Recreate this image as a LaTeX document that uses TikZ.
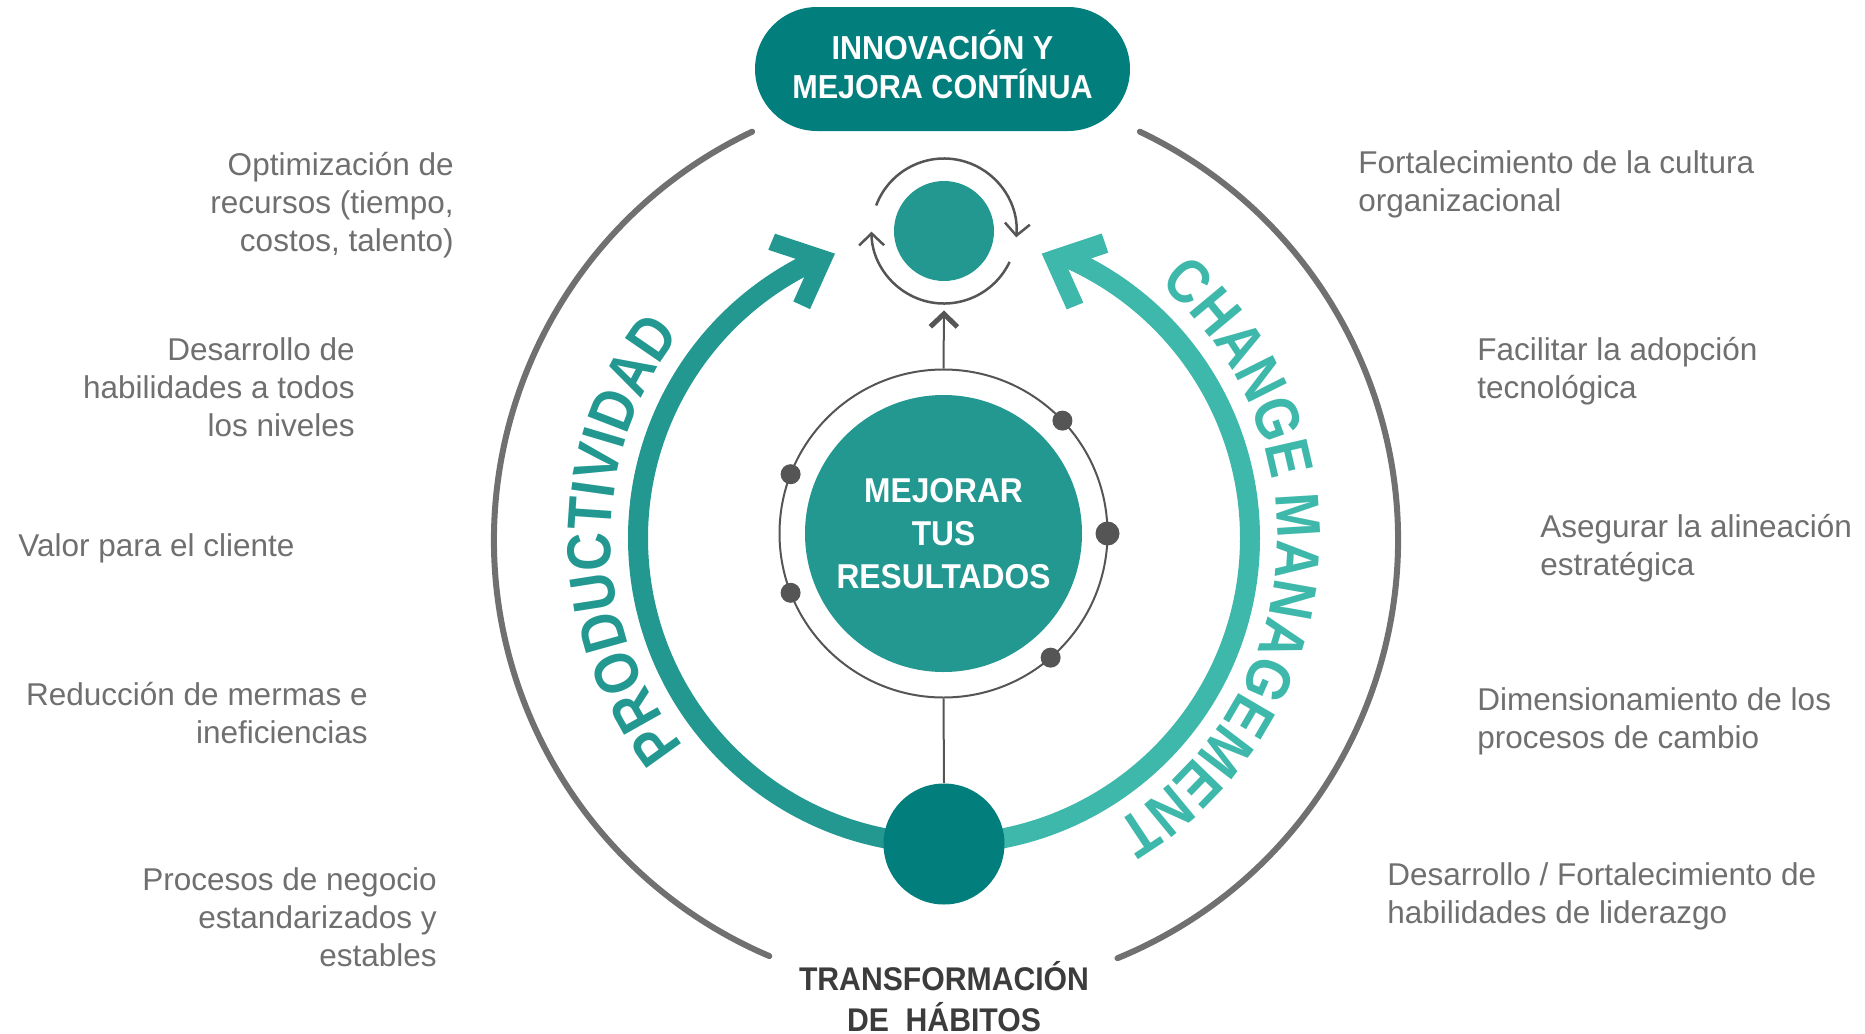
\documentclass[tikz,border=0pt]{standalone}
\usepackage{fontspec}
\setmainfont{Liberation Sans}
\newfontfamily\boldfont[FakeStretch=0.92]{Liberation Sans}
\newfontfamily\curvefont[FakeStretch=0.86]{Liberation Sans}
\usetikzlibrary{arrows.meta,decorations.text}
\definecolor{tealdark}{RGB}{2,127,125}
\definecolor{tealmid}{RGB}{34,152,145}
\definecolor{teallight}{RGB}{62,184,170}
\definecolor{txtgray}{RGB}{112,111,111}
\definecolor{arcgray}{RGB}{112,112,112}
\definecolor{linegray}{RGB}{85,85,85}
\definecolor{titlegray}{RGB}{60,60,60}
\newcommand\rlines[1]{\vtop{\lineskiplimit=-100pt\halign{\hfil##\cr#1\crcr}}}
\newcommand\llines[1]{\vtop{\lineskiplimit=-100pt\halign{##\hfil\cr#1\crcr}}}
\newcommand\clines[1]{\vtop{\lineskiplimit=-100pt\halign{\hfil##\hfil\cr#1\crcr}}}
\begin{document}
\begin{tikzpicture}[x=0.5pt,y=0.5pt,
  graylabel/.style={text=txtgray, inner sep=0pt, font=\fontsize{15.75pt}{19pt}\selectfont},
  outerarc/.style={arcgray, line width=3pt, line cap=round},
  bigarc/.style={line width=10pt},
  dotnode/.style={circle, fill=linegray, inner sep=0pt, minimum size=10pt},
  cyclearc/.style={linegray, line width=1.25pt, -{Straight Barb[length=6pt,width=12.5pt]}},
  boldtxt/.style={font=\boldfont\bfseries}
]
\useasboundingbox (0,0) rectangle (1865,-1034);
\coordinate (G) at (946,-540);
\coordinate (O) at (944,-538);
% outer gray arcs
\draw[outerarc] ([shift={(115.4:452)}]G) arc[start angle=115.4, end angle=247, radius=452];
\draw[outerarc] ([shift={(-67.7:452)}]G) arc[start angle=-67.7, end angle=64.6, radius=452];
% teal arcs
\draw[bigarc, tealmid] ([shift={(270:306)}]O) arc[start angle=270, end angle=114, radius=306];
\draw[bigarc, teallight] ([shift={(-90:306)}]O) arc[start angle=-90, end angle=66, radius=306];
% chevrons
\fill[tealmid] (775,-233.7) -- (835,-253.6) -- (810,-309.1) -- (793.3,-301.4) -- (810.3,-263.7) -- (768.3,-249.8) -- cycle;
\fill[teallight] (1041.7,-253.6) -- (1101.7,-233.5) -- (1108.3,-252.7) -- (1067.1,-266.5) -- (1083.3,-302.7) -- (1066.7,-309.4) -- cycle;
% curved texts
\path[decorate, decoration={text along path, text align=center,
  text={|\curvefont\bfseries\fontsize{31pt}{31pt}\selectfont\color{tealmid}|PRODUCTIVIDAD}}]
  ([shift={(260:333)}]O) arc[start angle=260, end angle=101, radius=333];
\path[decorate, decoration={text along path, text align=center,
  text={|\curvefont\bfseries\fontsize{31pt}{31pt}\selectfont\color{teallight}|CHANGE MANAGEMENT}}]
  ([shift={(85.2:333)}]O) arc[start angle=85.2, end angle=-94.8, radius=333];
% ring and central circle
\node[circle, draw=linegray, line width=1pt, minimum size=164pt, inner sep=0pt] (ring) at (943.5,-533.5) {};
\node[circle, fill=tealmid, minimum size=138.5pt, inner sep=0pt, text=white, boldtxt,
  font=\boldfont\bfseries\fontsize{17.25pt}{21.5pt}\selectfont, text height=12.35pt, text depth=43pt]
  (mejorar) at (943.5,-533.5) {\clines{MEJORAR\cr TUS\cr RESULTADOS}};
\node[dotnode] (d1) at ([shift={(43.5:164)}]ring.center) {};
\node[dotnode, minimum size=12pt] (d2) at ([shift={(0:164)}]ring.center) {};
\node[dotnode] (d3) at ([shift={(-49.2:164)}]ring.center) {};
\node[dotnode] (d4) at ([shift={(158.8:164)}]ring.center) {};
\node[dotnode] (d5) at ([shift={(201.2:164)}]ring.center) {};
% cycle
\node[circle, fill=tealmid, minimum size=50pt, inner sep=0pt] (cyc) at (944,-231) {};
\draw[cyclearc] ([shift={(159.4:72.5)}]cyc.center) arc[start angle=159.4, end angle=-5, radius=72.5];
\draw[cyclearc] ([shift={(-25.2:72.5)}]cyc.center) arc[start angle=-25.2, end angle=-179.5, radius=72.5];
\draw[linegray, line width=1pt, -{Straight Barb[length=6.5pt,width=13.5pt,line width=2.5pt]}]
  (ring.north) -- ([yshift=-14.5pt]cyc.south);
% bottom circle
\node[circle, fill=tealdark, minimum size=60.5pt, inner sep=0pt] (habit) at (944,-844) {};
\draw[linegray, line width=1pt] (ring.south) -- (habit.north);
\node[anchor=base, inner sep=0pt, text=titlegray, font=\boldfont\bfseries\fontsize{16.4pt}{20.75pt}\selectfont]
  (habtext) at (944,-990) {\clines{TRANSFORMACIÓN\cr DE\ \ HÁBITOS}};
% top pill
\node[rectangle, rounded corners=31pt, fill=tealdark, minimum width=187.5pt, minimum height=62pt, inner sep=0pt,
  text=white, font=\boldfont\bfseries\fontsize{16.6pt}{19.5pt}\selectfont, text height=11.9pt, text depth=21.6pt]
  (pill) at (942.5,-69) {\clines{INNOVACIÓN Y\cr MEJORA CONTÍNUA}};
% left labels
\node[graylabel, anchor=base east] (l1) at (454,-175) {\rlines{Optimización de\cr recursos (tiempo,\cr costos, talento)}};
\node[graylabel, anchor=base east] (l2) at (355,-360) {\rlines{Desarrollo de\cr habilidades a todos\cr los niveles}};
\node[graylabel, anchor=base west] (l3) at (18,-556) {Valor para el cliente};
\node[graylabel, anchor=base east] (l4) at (368,-705) {\rlines{Reducción de mermas e\cr ineficiencias}};
\node[graylabel, anchor=base east] (l5) at (437,-890) {\rlines{Procesos de negocio\cr estandarizados y\cr estables}};
% right labels
\node[graylabel, anchor=base west] (r1) at (1358,-173) {\llines{Fortalecimiento de la cultura\cr organizacional}};
\node[graylabel, anchor=base west] (r2) at (1477,-360) {\llines{Facilitar la adopción\cr tecnológica}};
\node[graylabel, anchor=base west] (r3) at (1540,-537) {\llines{Asegurar la alineación\cr estratégica}};
\node[graylabel, anchor=base west] (r4) at (1477,-710) {\llines{Dimensionamiento de los\cr procesos de cambio}};
\node[graylabel, anchor=base west] (r5) at (1387,-885) {\llines{Desarrollo / Fortalecimiento de\cr habilidades de liderazgo}};
\end{tikzpicture}
\end{document}
